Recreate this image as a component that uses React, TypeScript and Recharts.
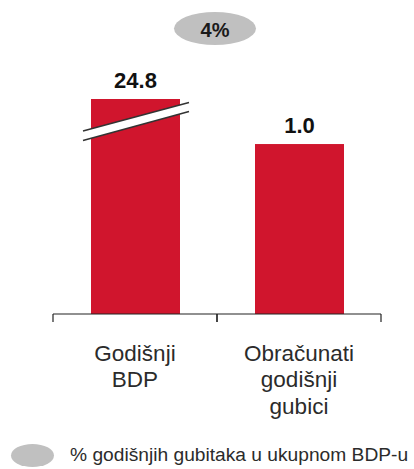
import React from 'react';
import { BarChart, Bar, XAxis, YAxis, LabelList, Legend } from 'recharts';

// ---- data ----
const categories = ['Godišnji BDP', 'Obračunati godišnji gubici'];
const values = [24.8, 1.0];
const valueLabels = ['24.8', '1.0'];
const brokenBars = [true, false];
const shareLabel = '4%';
const legendLabel = '% godišnjih gubitaka u ukupnom BDP-u';
// broken value axis: the tall bar is cut at this value
const axisCap = 1.265;

const data = categories.map((name, i) => ({
  name,
  value: values[i],
  label: valueLabels[i],
  broken: brokenBars[i],
}));

// ---- layout / style ----
const W = 414;
const H = 469;
const MARGIN = { top: 99, right: 33, bottom: 0, left: 53 };
const XAXIS_H = 127;
const LEGEND_H = 28;
const TICK_SIZE = 8;
const RED = '#D0152D';
const GREY = '#C0C0C0';
const FONT = '"Liberation Sans", Arial, Helvetica, sans-serif';
const PLOT_W = W - MARGIN.left - MARGIN.right;

const BarShape = (props: any) => {
  const { x, y, width, height, background, payload, fill } = props;
  const plotTop = background && typeof background.y === 'number' ? background.y : MARGIN.top;
  const top = Math.max(y, plotTop);
  const bottom = y + height;
  const rect = <rect x={x} y={top} width={width} height={bottom - top} fill={fill} />;
  if (!payload || !payload.broken) return rect;
  const lx = x - 8;
  const rx = x + width + 9;
  const u1 = top + 32;
  const u2 = top + 3.5;
  const l1 = top + 41.5;
  const l2 = top + 12.5;
  return (
    <g>
      {rect}
      <polygon points={`${lx},${u1} ${rx},${u2} ${rx},${l2} ${lx},${l1}`} fill="#ffffff" />
      <line x1={lx} y1={u1} x2={rx} y2={u2} stroke="#333" strokeWidth={1.6} />
      <line x1={lx} y1={l1} x2={rx} y2={l2} stroke="#333" strokeWidth={1.6} />
    </g>
  );
};

const ValueLabel = (props: any) => {
  const vb = props.viewBox || {};
  const x = props.x ?? vb.x;
  const y = props.y ?? vb.y;
  const width = props.width ?? vb.width;
  const top = Math.max(Number(y), MARGIN.top);
  return (
    <text
      x={Number(x) + Number(width) / 2}
      y={top - 11}
      textAnchor="middle"
      fontFamily={FONT}
      fontSize={22}
      fontWeight="bold"
      fill="#111"
    >
      {props.value}
    </text>
  );
};

const CategoryTick = (props: any) => {
  const { x, y, payload, width, visibleTicksCount } = props;
  const band = (width || PLOT_W) / (visibleTicksCount || categories.length);
  const axisY = y - TICK_SIZE;
  const lines = String(payload.value).split(' ');
  return (
    <g>
      <line x1={x - band / 2} y1={axisY} x2={x - band / 2} y2={axisY + TICK_SIZE} stroke="#222" strokeWidth={1.2} />
      <line x1={x + band / 2} y1={axisY} x2={x + band / 2} y2={axisY + TICK_SIZE} stroke="#222" strokeWidth={1.2} />
      <text x={x} y={axisY + 47} textAnchor="middle" fontFamily={FONT} fontSize={22.5} fill="#2b2b2b">
        {lines.map((l, i) => (
          <tspan key={i} x={x} dy={i === 0 ? 0 : 26.3}>
            {l}
          </tspan>
        ))}
      </text>
    </g>
  );
};

const ShareBadge = () => {
  const cx = MARGIN.left + PLOT_W / 2 - 2;
  const cy = 28.5;
  return (
    <g>
      <ellipse cx={cx} cy={cy} rx={41} ry={16.5} fill={GREY} />
      <text x={cx} y={37} textAnchor="middle" fontFamily={FONT} fontSize={20} fontWeight="bold" fill="#1a1a1a">
        {shareLabel}
      </text>
    </g>
  );
};

const LegendContent = () => (
  <div style={{ display: 'flex', alignItems: 'center', height: LEGEND_H, fontFamily: FONT }}>
    <div style={{ width: 43, height: 23, borderRadius: '50%', background: GREY, marginLeft: 11 }} />
    <span style={{ marginLeft: 16, fontSize: 19.2, color: '#2b2b2b', whiteSpace: 'nowrap' }}>{legendLabel}</span>
  </div>
);

export default function App() {
  return (
    <div style={{ position: 'absolute', left: 0, top: 0, width: W, height: H, background: '#fff' }}>
      <BarChart width={W} height={H} data={data} margin={MARGIN}>
        <XAxis
          dataKey="name"
          height={XAXIS_H}
          axisLine={{ stroke: '#222', strokeWidth: 1.2 }}
          tickLine={false}
          tickSize={TICK_SIZE}
          tickMargin={0}
          tick={<CategoryTick />}
          interval={0}
        />
        <YAxis hide domain={[0, axisCap]} allowDataOverflow />
        <Bar dataKey="value" fill={RED} barSize={89} shape={<BarShape />} isAnimationActive={false}>
          <LabelList dataKey="label" content={<ValueLabel />} />
        </Bar>
        <Legend
          verticalAlign="bottom"
          height={LEGEND_H}
          wrapperStyle={{ left: 0, width: W }}
          content={<LegendContent />}
        />
        <ShareBadge />
      </BarChart>
    </div>
  );
}
